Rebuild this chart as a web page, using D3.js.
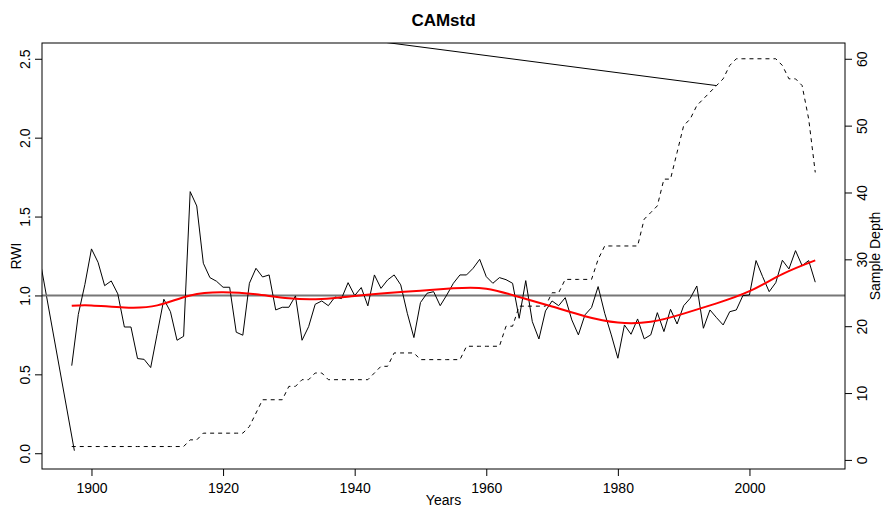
<!DOCTYPE html>
<html>
<head>
<meta charset="utf-8">
<title>CAMstd</title>
<script src="https://d3js.org/d3.v7.min.js"></script>
<style>
  body { margin: 0; background: #fff; }
  svg { display: block; font-family: "Liberation Sans", Arial, sans-serif; }
  .axis path { display: none; }
  .axis line { stroke: #000; }
  .axis text { font-size: 14px; fill: #000; }
</style>
</head>
<body>
<div id="chart"></div>
<script>
// ring width index, one value per year from 1897
var firstYear = 1897;
var rwi = [
  0.555, 0.88, 1.07, 1.295, 1.21, 1.062, 1.092, 1.01, 0.80, 0.80,
  0.60, 0.595, 0.543, 0.76, 0.976, 0.897, 0.716, 0.741, 1.658, 1.567,
  1.204, 1.113, 1.09, 1.052, 1.052, 0.767, 0.748, 1.077, 1.172, 1.117,
  1.13, 0.908, 0.925, 0.925, 0.997, 0.716, 0.802, 0.944, 0.965, 0.935,
  0.99, 0.98, 1.081, 0.999, 1.05, 0.934, 1.13, 1.045, 1.098, 1.13,
  1.067, 0.887, 0.733, 0.955, 1.014, 1.024, 0.935, 1.003, 1.077, 1.13,
  1.13, 1.172, 1.229, 1.119, 1.077, 1.113, 1.10, 1.077, 0.855, 1.094,
  0.834, 0.724, 0.902, 0.965, 0.935, 0.986, 0.845, 0.75, 0.877, 0.923,
  1.056, 0.887, 0.75, 0.602, 0.813, 0.754, 0.851, 0.725, 0.75, 0.891,
  0.771, 0.912, 0.819, 0.935, 0.982, 1.06, 0.792, 0.908, 0.859, 0.813,
  0.897, 0.908, 0.999, 1.003, 1.221, 1.119, 1.024, 1.081, 1.223, 1.168,
  1.284, 1.189, 1.221, 1.084
];

// sample depth, same years
var depth = [
  2, 2, 2, 2, 2, 2, 2, 2, 2, 2, 2, 2, 2, 2, 2, 2, 2, 2,
  3, 3, 4, 4, 4, 4, 4, 4, 4, 5, 7, 9, 9, 9, 9,
  11, 11, 12, 12, 13, 13, 12, 12, 12, 12, 12, 12, 12, 13, 14, 14,
  16, 16, 16, 16, 15, 15, 15, 15, 15, 15, 15, 17, 17, 17, 17, 17, 17,
  20, 20, 23, 23, 23, 23, 23, 25, 25, 27, 27, 27, 27, 27, 30,
  32, 32, 32, 32, 32, 32, 36, 37, 38, 42, 42, 46,
  50, 51, 53, 54, 55, 56, 57, 59, 60, 60, 60, 60, 60, 60, 60,
  59, 57, 57, 56, 51, 43
];

// smoothing spline, read at a few years
var splineYears = [1897, 1900, 1905, 1910, 1915, 1920, 1925, 1930, 1935, 1940, 1945, 1950,
                   1955, 1960, 1965, 1970, 1975, 1980, 1985, 1990, 1995, 2000, 2005, 2010];
var splineVals = [0.935, 0.937, 0.924, 0.937, 1.0, 1.02, 1.007, 0.982, 0.978, 0.997, 1.015, 1.03,
                  1.045, 1.043, 0.99, 0.93, 0.868, 0.828, 0.833, 0.885, 0.95, 1.027, 1.135, 1.222];

// stray segment that runs out of the plot
var strayYears = [1995, 1884.8, 1897.4];
var strayVals = [2.33, 2.93, 0.016];

var xTicks = [1900, 1920, 1940, 1960, 1980, 2000];
var yTicks = [0, 0.5, 1.0, 1.5, 2.0, 2.5];
var depthTicks = [0, 10, 20, 30, 40, 50, 60];

var width = 883, height = 511;
var margin = {top: 43, right: 38, bottom: 42, left: 42};
var w = width - margin.left - margin.right,
    h = height - margin.top - margin.bottom;

var series = rwi.map(function(v, i) { return {year: firstYear + i, rwi: v, depth: depth[i]}; });
var lastYear = firstYear + rwi.length - 1;

// R style 4% padding
var xPad = (lastYear - firstYear) * 0.04;
var x = d3.scaleLinear().domain([firstYear - xPad, lastYear + xPad]).range([0, w]);
var y = d3.scaleLinear().domain([-0.1, 2.6]).range([h, 0]);
var yd = d3.scaleLinear().domain([-1.36, 62.36]).range([h, 0]);

var svg = d3.select("#chart").append("svg")
    .attr("width", width)
    .attr("height", height);

svg.append("defs").append("clipPath").attr("id", "clip")
  .append("rect").attr("width", w).attr("height", h);

var g = svg.append("g").attr("transform", "translate(" + margin.left + "," + margin.top + ")");
var plot = g.append("g").attr("clip-path", "url(#clip)");

// sample depth, dashed
plot.append("path")
    .datum(series)
    .attr("fill", "none")
    .attr("stroke", "#000")
    .attr("stroke-width", 1)
    .attr("stroke-dasharray", "4,4")
    .attr("d", d3.line().x(function(d) { return x(d.year); }).y(function(d) { return yd(d.depth); }));

// stray segment
plot.append("path")
    .datum(strayYears.map(function(yr, i) { return [yr, strayVals[i]]; }))
    .attr("fill", "none")
    .attr("stroke", "#000")
    .attr("stroke-width", 1)
    .attr("d", d3.line().x(function(d) { return x(d[0]); }).y(function(d) { return y(d[1]); }));

// reference line at 1
plot.append("line")
    .attr("x1", 0).attr("x2", w)
    .attr("y1", y(1)).attr("y2", y(1))
    .attr("stroke", "#777")
    .attr("stroke-width", 2);

// rwi
plot.append("path")
    .datum(series)
    .attr("fill", "none")
    .attr("stroke", "#000")
    .attr("stroke-width", 1)
    .attr("d", d3.line().x(function(d) { return x(d.year); }).y(function(d) { return y(d.rwi); }));

// spline
plot.append("path")
    .datum(splineYears.map(function(yr, i) { return [yr, splineVals[i]]; }))
    .attr("fill", "none")
    .attr("stroke", "#ff0000")
    .attr("stroke-width", 2)
    .attr("d", d3.line().curve(d3.curveNatural)
        .x(function(d) { return x(d[0]); }).y(function(d) { return y(d[1]); }));

// frame
g.append("rect")
    .attr("width", w).attr("height", h)
    .attr("fill", "none").attr("stroke", "#000").attr("stroke-width", 1);

// axes
var xAxis = g.append("g").attr("class", "axis")
    .attr("transform", "translate(0," + h + ")")
    .call(d3.axisBottom(x).tickValues(xTicks).tickFormat(d3.format("d")).tickSizeOuter(0).tickSize(7).tickPadding(5));
xAxis.selectAll("text").attr("dy", "0.85em");

var yAxis = g.append("g").attr("class", "axis")
    .call(d3.axisLeft(y).tickValues(yTicks).tickFormat(d3.format(".1f")).tickSizeOuter(0).tickSize(7));
yAxis.selectAll("text")
    .attr("x", 0).attr("dy", null)
    .attr("text-anchor", "middle")
    .attr("transform", "translate(-12,0) rotate(-90)");

var dAxis = g.append("g").attr("class", "axis")
    .attr("transform", "translate(" + w + ",0)")
    .call(d3.axisRight(yd).tickValues(depthTicks).tickSizeOuter(0).tickSize(7));
dAxis.selectAll("text")
    .attr("x", 0).attr("dy", null)
    .attr("text-anchor", "middle")
    .attr("transform", "translate(22,0) rotate(-90)");

// titles
svg.append("text")
    .attr("x", margin.left + w / 2).attr("y", 26)
    .attr("text-anchor", "middle")
    .style("font-size", "17px").style("font-weight", "bold")
    .text("CAMstd");

svg.append("text")
    .attr("x", margin.left + w / 2).attr("y", 505)
    .attr("text-anchor", "middle")
    .style("font-size", "14px")
    .text("Years");

svg.append("text")
    .attr("transform", "translate(20.5," + (margin.top + h / 2) + ") rotate(-90)")
    .attr("text-anchor", "middle")
    .style("font-size", "14px")
    .text("RWI");

svg.append("text")
    .attr("transform", "translate(880," + (margin.top + h / 2) + ") rotate(-90)")
    .attr("text-anchor", "middle")
    .style("font-size", "14px")
    .text("Sample Depth");
</script>
</body>
</html>
